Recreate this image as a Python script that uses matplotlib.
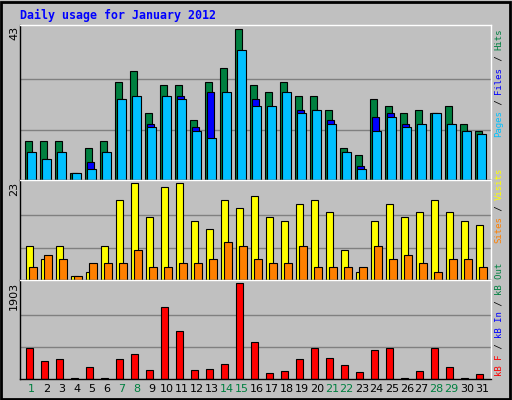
import numpy as np
import matplotlib.pyplot as plt
from matplotlib.patches import Rectangle

days = np.arange(1, 32)
hits = [11, 11, 11, 2, 9, 11, 28, 31, 19, 27, 27, 17, 28, 32, 43, 27, 25, 28, 24, 24, 20, 9, 7, 23, 21, 19, 20, 19, 21, 16, 14]
files = [8, 6, 8, 2, 5, 8, 23, 23, 16, 24, 24, 15, 25, 24, 36, 23, 17, 15, 20, 20, 17, 8, 4, 18, 19, 16, 15, 19, 16, 14, 13]
pages = [8, 6, 8, 2, 3, 8, 23, 24, 15, 24, 23, 14, 12, 25, 37, 21, 21, 25, 19, 20, 16, 8, 3, 14, 18, 15, 16, 19, 16, 14, 13]
visits = [8, 5, 8, 1, 2, 8, 19, 23, 15, 22, 23, 14, 12, 19, 17, 20, 15, 14, 18, 19, 16, 7, 2, 14, 18, 15, 16, 19, 16, 14, 13]
sites = [3, 6, 5, 1, 4, 4, 4, 7, 3, 3, 4, 4, 5, 9, 8, 5, 4, 4, 8, 3, 3, 3, 3, 8, 5, 6, 4, 2, 5, 5, 3]
kbytes = [611, 361, 403, 28, 236, 28, 403, 486, 174, 1424, 945, 174, 194, 299, 1903, 736, 111, 153, 403, 611, 424, 278, 132, 569, 611, 28, 153, 611, 236, 28, 90]
weekend = [1, 7, 8, 14, 15, 21, 22, 28, 29]

W, H = 512, 400
fig = plt.figure(figsize=(5.12, 4.0), dpi=100)
fig.patch.set_facecolor('#C0C0C0')
fig.patches.append(Rectangle((1 / W, 1 / H), 1 - 3 / W, 1 - 3 / H, transform=fig.transFigure,
                             fill=False, edgecolor='black', lw=2))
mono = 'DejaVu Sans Mono'


def px_axes(top, bottom):
    return fig.add_axes([20 / W, 1 - bottom / H, 471 / W, (bottom - top) / H])


def style(ax, ymax):
    ax.set_facecolor('#C0C0C0')
    ax.set_xlim(0.667, 32.07)
    ax.set_ylim(0, ymax * 1.03)
    for v in (ymax / 3, 2 * ymax / 3):
        ax.axhline(v, color='#808080', lw=1, zorder=0)
    ax.set_yticks([])
    ax.set_xticks([])
    for s in ax.spines.values():
        s.set_color('black')
        s.set_linewidth(1)
    ax.spines['top'].set_color('white')
    ax.spines['right'].set_color('white')


kw = dict(align='edge', edgecolor='black', linewidth=0.8)
ax1 = px_axes(24.5, 180)
style(ax1, 43)
ax1.bar(days, hits, 0.49, color='#008040', **kw)
ax1.bar(days + 0.11, files, 0.49, color='#0000FF', **kw)
ax1.bar(days + 0.16, pages, 0.55, color='#00C0FF', **kw)

ax2 = px_axes(180, 280)
style(ax2, 23)
ax2.bar(days + 0.04, visits, 0.51, color='#FFFF00', **kw)
ax2.bar(days + 0.29, sites, 0.49, color='#FF8000', **kw)

ax3 = px_axes(280, 379)
style(ax3, 1903)
ax3.bar(days + 0.04, kbytes, 0.47, color='#FF0000', **kw)

for d in days:
    ax3.text(d + 0.45, -0.05, str(d), transform=ax3.get_xaxis_transform(), ha='center', va='top',
             fontsize=8, color='#008040' if d in weekend else 'black')

fig.text(20 / W, 1 - 15 / H, 'Daily usage for January 2012', color='#0000FF', fontsize=8.4,
         fontweight='bold', family=mono, va='center')

for top, lab in [(26, '43'), (182, '23'), (282, '1903')]:
    fig.text(14 / W, 1 - top / H, lab, rotation=90, ha='center', va='top', fontsize=8)


def side(start, parts):
    y = start
    step = 5.43
    for txt, col in parts:
        fig.text(499 / W, 1 - y / H, txt, rotation=90, ha='center', va='bottom',
                 fontsize=6.5, family=mono, color=col)
        y -= step * len(txt)


side(137, [('Pages', '#00C0FF'), (' / ', 'black'), ('Files', '#0000FF'), (' / ', 'black'), ('Hits', '#008040')])
side(243, [('Sites', '#FF8000'), (' / ', 'black'), ('Visits', '#FFFF00')])
side(376, [('kB F', '#FF0000'), (' / ', 'black'), ('kB In', '#0000FF'), (' / ', 'black'), ('kB Out', '#008040')])

fig.savefig('out.png', dpi=100, facecolor=fig.get_facecolor())
